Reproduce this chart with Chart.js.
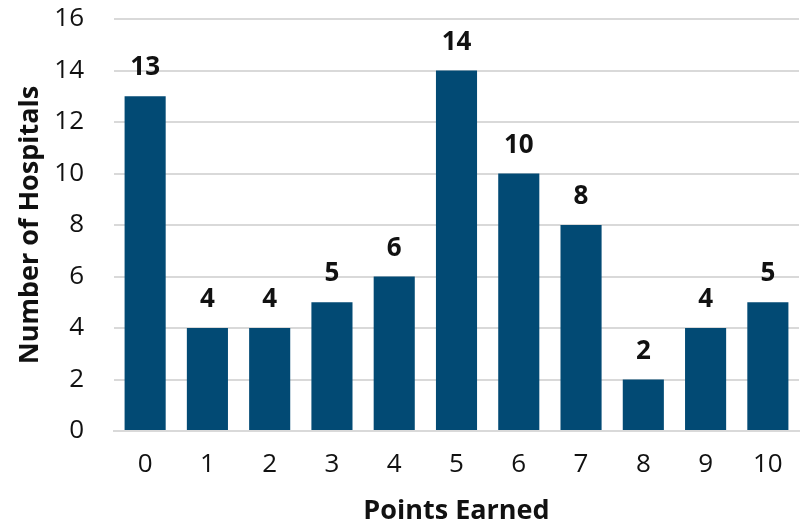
<!DOCTYPE html>
<html>
<head>
<meta charset="utf-8">
<script src="https://cdn.jsdelivr.net/npm/chart.js@4/dist/chart.umd.min.js"></script>
<style>
  html, body { margin: 0; padding: 0; background: #fff; }
  #wrap { width: 806px; height: 526px; position: relative; }
</style>
</head>
<body>
<div id="wrap"><canvas id="chart"></canvas></div>
<script>
// Datos del gráfico
const pointsEarned = ["0", "1", "2", "3", "4", "5", "6", "7", "8", "9", "10"]
const hospitalCounts = [13, 4, 4, 5, 6, 14, 10, 8, 2, 4, 5]
const yMax = 16
const yStep = 2

const barColor = "#024a74"
const gridColor = "#d9d9d9"
const fontFamily = "'Open Sans', 'DejaVu Sans', sans-serif"

// Etiquetas de valor encima de cada barra
const valueLabels = {
  id: "valueLabels",
  afterDatasetsDraw(chart) {
    const ctx = chart.ctx
    const meta = chart.getDatasetMeta(0)
    ctx.save()
    ctx.font = "bold 26px " + fontFamily
    ctx.fillStyle = "#111"
    ctx.textAlign = "center"
    ctx.textBaseline = "alphabetic"
    meta.data.forEach((bar, i) => {
      ctx.fillText(String(chart.data.datasets[0].data[i]), bar.x, bar.y - 21)
    })
    ctx.restore()
  },
}

new Chart(document.getElementById("chart"), {
  type: "bar",
  data: {
    labels: pointsEarned,
    datasets: [
      {
        data: hospitalCounts,
        backgroundColor: barColor,
        barPercentage: 0.66,
        categoryPercentage: 1,
      },
    ],
  },
  options: {
    responsive: true,
    maintainAspectRatio: false,
    animation: false,
    layout: { padding: { top: 0, right: 7, left: 0, bottom: 0 } },
    plugins: {
      legend: { display: false },
      tooltip: { enabled: false },
    },
    scales: {
      x: {
        grid: { display: false, drawTicks: false },
        border: { color: gridColor, width: 2 },
        ticks: { color: "#111", font: { family: fontFamily, size: 26 }, padding: 18 },
        title: {
          display: true,
          text: "Points Earned",
          color: "#111",
          font: { family: fontFamily, size: 27, weight: "bold" },
          padding: { top: 0, bottom: -2 },
        },
        // Altura fija del eje para igualar la referencia
        afterFit: (scale) => {
          scale.height = 95
        },
      },
      y: {
        min: 0,
        max: yMax,
        ticks: { stepSize: yStep, color: "#111", font: { family: fontFamily, size: 26 }, padding: 30 },
        grid: { color: gridColor, lineWidth: 2, drawTicks: false },
        border: { display: false },
        title: {
          display: true,
          text: "Number of Hospitals",
          color: "#111",
          font: { family: fontFamily, size: 27, weight: "bold" },
          padding: { top: 14, bottom: 0 },
        },
        afterFit: (scale) => {
          scale.width = 114
          scale.paddingTop = 19
          scale.paddingBottom = 0
        },
      },
    },
  },
  plugins: [valueLabels],
})
</script>
</body>
</html>
